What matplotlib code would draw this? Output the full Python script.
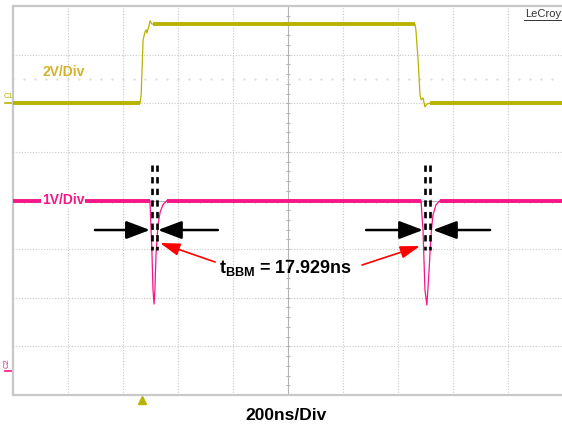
import numpy as np
import matplotlib.pyplot as plt
import matplotlib.transforms as mtransforms

plt.rcParams['font.family'] = ['Liberation Sans', 'DejaVu Sans']
plt.rcParams['mathtext.fontset'] = 'custom'
plt.rcParams['mathtext.rm'] = 'Liberation Sans'
plt.rcParams['mathtext.bf'] = 'Liberation Sans:bold'

# scope settings
ns_per_div = 200
c1_v_per_div = 2
c2_v_per_div = 1
c1_ground_div = 2.0
c2_ground_div = -3.5
trigger_time = -531

# channel 1 (yellow): time in ns, level in V
c1_time = [-1000, -538, -534, -527, -520, -516, -513, -505, -502, -495, -491,
           462, 465, 473, 480, 484, 491, 498, 505, 516, 1000]
c1_volt = [0.0, 0.0, 0.35, 2.60, 2.93, 3.02, 2.89, 3.20, 3.39, 3.26, 3.25,
           3.25, 3.02, 1.78, 0.35, 0.14, 0.22, -0.15, -0.03, 0.0, 0.0]
c1_levels = [0.0, 3.25]

# channel 2 (magenta)
c2_time = [-1000, -502, -495, -491, -487, -484, -480, -473, -465, -455, -440,
           484, 487, 491, 498, 505, 513, 520, 527, 538, 553, 1000]
c2_volt = [3.5, 3.5, 2.48, 1.66, 1.37, 1.66, 2.38, 2.99, 3.26, 3.41, 3.5,
           3.5, 3.20, 2.89, 1.66, 1.35, 2.07, 2.79, 3.20, 3.41, 3.5, 3.5]
c2_level = 3.5

# break-before-make cursors (ns)
cursors = [(-496, -478), (497, 515)]
tbbm_text = r'$\mathbf{t}_{\mathbf{BBM}}$ = 17.929ns'

YELLOW = '#b8b200'
MAGENTA = '#f5168a'
GRID = '#c8c8c8'

fig = plt.figure(figsize=(5.62, 4.30), dpi=100)
ax = fig.add_axes([13 / 562, 35 / 430, 550 / 562, 389 / 430])
ax.set_xlim(-5 * ns_per_div, 5 * ns_per_div)
ax.set_ylim(-4, 4)
ax.set_xticks([])
ax.set_yticks([])
for side in ['left', 'bottom', 'top']:
    ax.spines[side].set_color(GRID)
    ax.spines[side].set_linewidth(1.6)
ax.spines['right'].set_visible(False)

# graticule
for i in range(-4, 5):
    if i != 0:
        ax.axvline(i * ns_per_div, color=GRID, lw=0.8, ls=(0, (1, 1.5)), zorder=0)
for j in range(-3, 4):
    if j != 0:
        ax.axhline(j, color=GRID, lw=0.8, ls=(0, (1, 1.5)), zorder=0)
ax.axvline(0, color='#b4b4b4', lw=0.8, zorder=0)
ax.axhline(0, color='#b4b4b4', lw=0.8, zorder=0)
ax.plot(np.arange(-1000, 1001, 40), np.zeros(51), ls='none', marker='|',
        ms=3.5, mew=0.7, color='#b4b4b4', zorder=0)
ax.plot(np.zeros(41), np.arange(-4, 4.01, 0.2), ls='none', marker='_',
        ms=3.5, mew=0.7, color='#b4b4b4', zorder=0)
ax.plot(np.arange(-1000, 1001, 40), np.full(51, 2.5), ls='none', marker='.',
        ms=1.0, color='#d4d4d4', zorder=0)

# traces
c1_t = np.array(c1_time)
c1_y = np.array(c1_volt) / c1_v_per_div + c1_ground_div
c2_t = np.array(c2_time)
c2_y = np.array(c2_volt) / c2_v_per_div + c2_ground_div

ax.plot(c1_t, c1_y, color=YELLOW, lw=0.9, zorder=3)
c1_flat = np.ma.masked_where(~np.isin(c1_volt, c1_levels), c1_y)
ax.plot(c1_t, c1_flat, color=YELLOW, lw=2.8, solid_capstyle='butt', zorder=3)

ax.plot(c2_t, c2_y, color=MAGENTA, lw=0.9, zorder=3)
c2_flat = np.ma.masked_where(np.array(c2_volt) != c2_level, c2_y)
ax.plot(c2_t, c2_flat, color=MAGENTA, lw=2.8, solid_capstyle='butt', zorder=3)

# cursors and arrows
for a, b in cursors:
    for t in (a, b):
        ax.plot([t, t], [0.73, -1.02], color='black', lw=1.9,
                ls=(0, (2.4, 2.0)), zorder=4)

black_arrow = dict(arrowstyle='-|>,head_length=1.45,head_width=0.55',
                   mutation_scale=10, color='black', lw=1.8, shrinkA=0, shrinkB=0)
for start, tip in [(-702, -502), (-255, -473), (284, 491), (735, 527)]:
    ax.annotate('', xy=(tip, -0.607), xytext=(start, -0.607),
                arrowprops=black_arrow, zorder=5)

red_arrow = dict(arrowstyle='-|>,head_length=1.2,head_width=0.38',
                 mutation_scale=10, color='red', lw=1.2, shrinkA=0, shrinkB=0)
ax.annotate('', xy=(-465, -0.874), xytext=(-265, -1.265), arrowprops=red_arrow, zorder=5)
ax.annotate('', xy=(480, -0.936), xytext=(269, -1.327), arrowprops=red_arrow, zorder=5)

ax.text(-7, -1.49, tbbm_text, ha='center', va='baseline', fontsize=13,
        fontweight='bold', zorder=6)

# channel labels
ax.text(-894, 2.64, '2V/Div', color='#d4b22c', fontsize=10, fontweight='bold',
        ha='left', va='center', zorder=6)
ax.text(-894, 0.01, '1V/Div', color=MAGENTA, fontsize=10, fontweight='bold',
        ha='left', va='center', zorder=6,
        bbox=dict(facecolor='white', edgecolor='none', pad=0.6))

# ground markers and trigger marker outside the grid
ax.plot([-1029, -1000], [c1_ground_div] * 2, color=YELLOW, lw=1.2, clip_on=False)
ax.plot([-1029, -1000], [c2_ground_div] * 2, color=MAGENTA, lw=1.2, clip_on=False)
fig.text(8 / 562, 1 - 96 / 430, 'C1', color=YELLOW, fontsize=5.5, ha='center', va='center')
fig.text(7 / 562, 1 - 363 / 430, 'C2', color=MAGENTA, fontsize=5.5, ha='center',
         va='center', rotation=90)
trans = mtransforms.blended_transform_factory(ax.transData, ax.transAxes)
ax.plot([trigger_time], [-0.014], marker='^', ms=6, color=YELLOW,
        transform=trans, clip_on=False)

fig.text(286 / 562, 1 - 416 / 430, '200ns/Div', fontsize=12.5, fontweight='bold',
         ha='center', va='center')
fig.text(561 / 562, 1 - 14 / 430, 'LeCroy', fontsize=8, color='#333333',
         ha='right', va='center', family=['Liberation Sans Narrow', 'Liberation Sans'])
fig.add_artist(plt.Line2D([524 / 562, 561 / 562], [1 - 20 / 430] * 2,
                          color='#333333', lw=0.7))

fig.savefig('out.png', dpi=100)
